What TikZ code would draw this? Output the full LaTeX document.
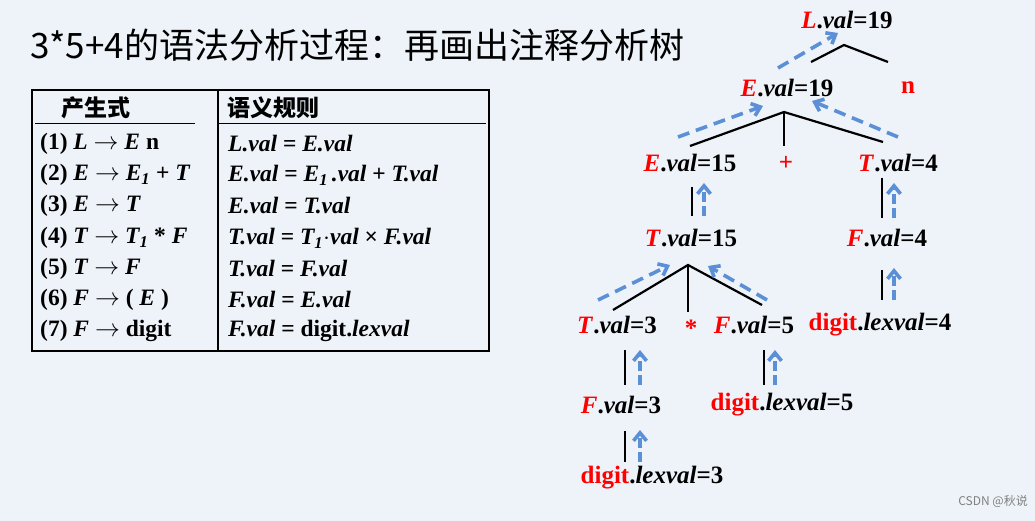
\documentclass[tikz,border=0pt]{standalone}
\usepackage{fontspec}
\setmainfont{Liberation Serif}
\newfontfamily\cjk{Noto Sans CJK SC}
\usetikzlibrary{arrows.meta}
\definecolor{bg}{HTML}{EEF3F9}
\definecolor{ablue}{HTML}{5B8FD6}
\begin{document}
\begin{tikzpicture}[x=1pt,y=-1pt,
  tn/.style={font=\fontsize{25}{27}\selectfont\bfseries, inner sep=0pt},
  tl/.style={font=\fontsize{23.5}{25}\selectfont\bfseries, anchor=west, inner sep=0pt},
  br/.style={line width=2.2pt},
  up/.style={ablue, line width=3.6pt, dash pattern=on 12pt off 7pt, -{Straight Barb[length=8pt,width=13pt]}},
  vup/.style={ablue, line width=3.6pt, dash pattern=on 10pt off 4pt, -{Straight Barb[length=8pt,width=13pt]}}]
\fill[bg] (0,0) rectangle (1035,521);
\useasboundingbox (0,0) rectangle (1035,521);
\newcommand{\R}[1]{\textcolor{red}{\textit{#1}}}
\node[anchor=west, inner sep=0pt, font=\cjk\fontsize{35}{37}\selectfont] (title) at (30,45) {3*5+4的语法分析过程：再画出注释分析树};
% table
\draw[line width=1.5pt] (32,90) rectangle (489,351);
\draw[line width=1.5pt] (218,90) -- (218,351);
\draw[line width=1pt] (35,124) -- (195,124) (218,124) -- (486,124);
\node[inner sep=0pt, font=\cjk\bfseries\fontsize{23}{25}\selectfont] (h1) at (96,108) {产生式};
\node[inner sep=0pt, anchor=west, font=\cjk\bfseries\fontsize{23}{25}\selectfont] (h2) at (227,108) {语义规则};
\node[tl] (p1) at (40,144) {(1) \textit{L} $\rightarrow$ \textit{E} n};
\node[tl] (p2) at (40,175) {(2) \textit{E} $\rightarrow$ \textit{E\textsubscript{1}} + \textit{T}};
\node[tl] (p3) at (40,206) {(3) \textit{E} $\rightarrow$ \textit{T}};
\node[tl] (p4) at (40,238) {(4) \textit{T} $\rightarrow$ \textit{T\textsubscript{1}} * \textit{F}};
\node[tl] (p5) at (40,269) {(5) \textit{T} $\rightarrow$ \textit{F}};
\node[tl] (p6) at (40,300) {(6) \textit{F} $\rightarrow$ ( \textit{E} )};
\node[tl] (p7) at (40,331) {(7) \textit{F} $\rightarrow$ digit};
\node[tl] (r1) at (228,144) {\textit{L.val} = \textit{E.val}};
\node[tl] (r2) at (228,175) {\textit{E.val} = \textit{E\textsubscript{1}}\,\textit{.val} + \textit{T.val}};
\node[tl] (r3) at (228,206) {\textit{E.val} = \textit{T.val}};
\node[tl] (r4) at (228,238) {\textit{T.val} = \textit{T\textsubscript{1}}$\cdot$\textit{val} × \textit{F.val}};
\node[tl] (r5) at (228,269) {\textit{T.val} = \textit{F.val}};
\node[tl] (r6) at (228,300) {\textit{F.val} = \textit{E.val}};
\node[tl] (r7) at (228,331) {\textit{F.val} = digit.\textit{lexval}};
% tree nodes
\node[tn] (L) at (847,20) {\R{L}.\textit{val}=19};
\node[tn] (E19) at (787,88) {\R{E}.\textit{val}=19};
\node[tn, text=red] (n) at (908,88) {n};
\node[tn] (E15) at (690,163) {\R{E}.\textit{val}=15};
\node[tn, text=red] (plus) at (786,163) {+};
\node[tn] (T4) at (898,163) {\R{T}.\textit{val}=4};
\node[tn] (T15) at (691,238) {\R{T}.\textit{val}=15};
\node[tn] (F4) at (887,238) {\R{F}.\textit{val}=4};
\node[tn] (T3) at (617,325) {\R{T}.\textit{val}=3};
\node[tn, text=red] (star) at (691,328) {*};
\node[tn] (F5) at (754,325) {\R{F}.\textit{val}=5};
\node[tn] (d4) at (880,325) {\textcolor{red}{digit}.\textit{lexval}=4};
\node[tn] (F3) at (621,405) {\R{F}.\textit{val}=3};
\node[tn] (d5) at (782,405) {\textcolor{red}{digit}.\textit{lexval}=5};
\node[tn] (d3) at (652,478) {\textcolor{red}{digit}.\textit{lexval}=3};
% coordinates for branches
\coordinate (pL) at (844,45);
\coordinate (pE) at (784,112);
\coordinate (pT) at (688,265);
% branches
\draw[br] (811,62) -- (pL) -- (888,62);
\draw[br] (690,146) -- (pE) -- (883,142);
\draw[br] (pE) -- (784,146);
\draw[br] (613,310) -- (pT) -- (762,305);
\draw[br] (pT) -- (688,312);
\draw[br] (692,187) -- (692,216);
\draw[br] (882,178) -- (882,218);
\draw[br] (625,350) -- (625,385);
\draw[br] (764,350) -- (764,385);
\draw[br] (625,431) -- (625,462);
\draw[br] (882,270) -- (882,300);
% blue arrows
\draw[up] (778,68) -- (838,33);
\draw[up] (678,137) -- (763,106);
\draw[up] (898,137) -- (812,101);
\draw[up] (598,300) -- (670,265);
\draw[up] (767,300) -- (708,266);
\draw[vup] (704,216) -- (704,183);
\draw[vup] (894,218) -- (894,183);
\draw[vup] (640,385) -- (640,350);
\draw[vup] (775,385) -- (775,350);
\draw[vup] (640,462) -- (640,430);
\draw[vup] (894,300) -- (894,268);
\node[anchor=east, inner sep=0pt, text=gray, font=\cjk\fontsize{12}{13}\selectfont] (wm) at (1028,502) {CSDN @秋说};
\end{tikzpicture}
\end{document}
